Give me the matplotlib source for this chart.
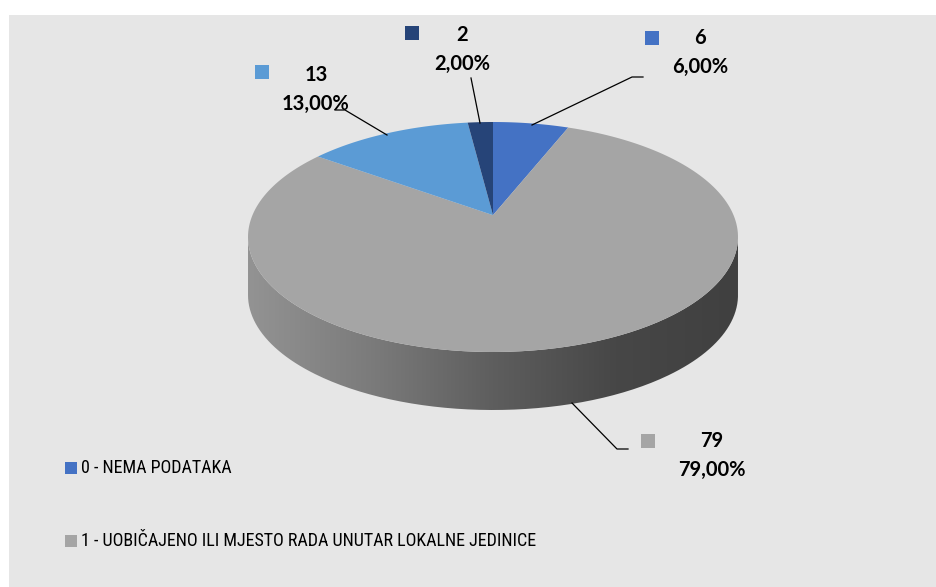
import numpy as np
import matplotlib
matplotlib.use("Agg")
import matplotlib.pyplot as plt
from matplotlib import font_manager
from matplotlib.colors import LinearSegmentedColormap
from matplotlib.patches import Rectangle, PathPatch, Polygon
from matplotlib.path import Path

# data
counts = [6, 79, 13, 2]
colors = ["#4472C4", "#A5A5A5", "#5B9BD5", "#264478"]
legend_labels = ["0 - NEMA PODATAKA",
                 "1 - UOBIČAJENO ILI MJESTO RADA UNUTAR LOKALNE JEDINICE"]

W, H = 937, 587
CX, CY = 493, 237      # ellipse centre in pixels
RX, RY = 245, 115      # ellipse radii in pixels
DEPTH = 58 / RY        # side height in data units
PERSP = 0.19           # perspective factor (apex sits above ellipse centre)


def px(x, y):
    # pixel position -> data coords of the pie axes
    return (x - CX) / RX, (CY - y) / RY


def persp(phi_deg):
    # point on the pie rim at angle phi, seen in perspective
    phi = np.radians(phi_deg)
    d = 1 + PERSP * np.sin(phi)
    x = np.cos(phi) / d
    y = np.sin(phi) / d
    return x * np.sqrt(1 - PERSP ** 2), y * (1 - PERSP ** 2) + PERSP


def pick_font(names):
    for n in names:
        try:
            font_manager.findfont(font_manager.FontProperties(family=n),
                                  fallback_to_default=False)
            return n
        except ValueError:
            pass
    return "DejaVu Sans"


legend_font = pick_font(["Liberation Sans Narrow", "Roboto Condensed",
                         "Open Sans Condensed", "Liberation Sans"])

fig = plt.figure(figsize=(W / 100, H / 100), dpi=100)
fig.patch.set_facecolor("white")
ax = fig.add_axes([0, 0, 1, 1])
ax.set_axis_off()

# chart area background
bx0, by0 = px(9, 587)
bx1, by1 = px(936, 15)
ax.add_patch(Rectangle((bx0, by0), bx1 - bx0, by1 - by0,
                       facecolor="#E6E6E6", edgecolor="none", zorder=0))

# side of the 3d pie (front half), horizontal gradient
t = np.linspace(np.pi, 2 * np.pi, 200)
verts = np.concatenate([np.column_stack([np.cos(t), np.sin(t)]),
                        np.column_stack([np.cos(t[::-1]), np.sin(t[::-1]) - DEPTH])])
band = PathPatch(Path(verts), facecolor="none", edgecolor="none")
ax.add_patch(band)
side_cmap = LinearSegmentedColormap.from_list(
    "side", ["#939393", "#7b7b7b", "#5e5e5e", "#474747", "#404040"])
grad = np.linspace(0, 1, 256).reshape(1, -1)
img = ax.imshow(grad, cmap=side_cmap, aspect="auto",
                extent=(-1, 1, -1 - DEPTH, 0), zorder=1)
img.set_clip_path(band)

# top of the pie: let pie() work out the angles, then redraw in perspective
wedges, _ = ax.pie(counts, colors=colors, startangle=90, counterclock=False,
                   radius=1, center=(0, 0), frame=True,
                   wedgeprops=dict(linewidth=0))
for w in wedges:
    a = np.linspace(w.theta1, w.theta2, 200)
    rx, ry = persp(a)
    pts = np.column_stack([np.r_[0, rx], np.r_[PERSP, ry]])
    ax.add_patch(Polygon(pts, closed=True, facecolor=w.get_facecolor(),
                         edgecolor="none", zorder=2))
    w.set_visible(False)

ax.set_aspect("auto")
ax.set_xlim(px(0, 0)[0], px(W, 0)[0])
ax.set_ylim(px(0, H)[1], px(0, 0)[1])

# data labels: (text centre, marker, leader line points) in pixels
total = sum(counts)
label_pos = {
    0: dict(txt=(700, 38), mark=(652, 38), line=[(643, 77), (632, 77), (532, 125)]),
    1: dict(txt=(712, 441), mark=(648, 441), line=[(628, 449), (617, 449), (572, 403)]),
    2: dict(txt=(316, 75), mark=(262, 72), line=[(335, 110), (345, 110), (387, 135)]),
    3: dict(txt=(462, 35), mark=(412, 33), line=[(471, 78), (480, 123)]),
}
for i, v in enumerate(counts):
    p = label_pos[i]
    tx, ty = px(*p["txt"])
    ax.text(tx, ty, f"{v}", ha="center", va="center", fontsize=14.5,
            fontweight="bold", family="Lato", color="black", zorder=5)
    tx2, ty2 = px(p["txt"][0], p["txt"][1] + 29)
    pct = f"{v / total * 100:.2f}%".replace(".", ",")
    ax.text(tx2, ty2, pct, ha="center", va="center", fontsize=14.5,
            fontweight="bold", family="Lato", color="black", zorder=5)
    mx, my = px(p["mark"][0] - 7, p["mark"][1] + 7)
    ax.add_patch(Rectangle((mx, my), 14 / RX, 14 / RY, facecolor=colors[i],
                           edgecolor="none", zorder=5))
    lx, ly = zip(*[px(a, b) for a, b in p["line"]])
    ax.plot(lx, ly, color="black", linewidth=0.9, zorder=4)

# legend (only first two categories visible)
for k, lab in enumerate(legend_labels):
    yy = 468 + 73 * k
    mx, my = px(65, yy + 6)
    ax.add_patch(Rectangle((mx, my), 12 / RX, 12 / RY, facecolor=colors[k],
                           edgecolor="none", zorder=5))
    tx, ty = px(81, yy)
    ax.text(tx, ty, lab, ha="left", va="center", fontsize=13,
            family=[legend_font, "DejaVu Sans"], color="black", zorder=5)

fig.savefig("out.png", dpi=100, facecolor=fig.get_facecolor())
